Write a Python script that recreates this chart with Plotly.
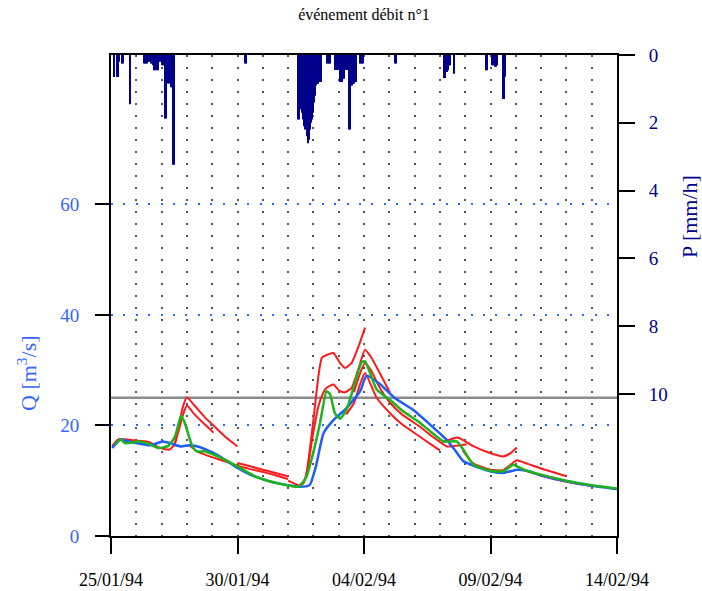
import plotly.graph_objects as go

# ---------------- data ----------------
x_tick_vals = [0, 5, 10, 15, 20]
x_tick_text = ["25/01/94", "30/01/94", "04/02/94", "09/02/94", "14/02/94"]
q_ticks = [0, 20, 40, 60]
p_ticks = [0, 2, 4, 6, 8, 10]
threshold_q = 25

# observed discharge (blue), time in days since 25/01/94
blue_t = [0.05, 0.35, 0.9, 1.55, 2.05, 2.35, 2.75, 3.1, 3.5, 4.2, 5.0, 5.5, 6.4, 7.45, 7.85, 8.1, 8.4,
          8.8, 9.3, 9.85, 10.1, 10.65, 11.2, 11.95, 12.6, 13.27, 13.6, 13.93, 14.5, 14.98, 15.5, 16.04,
          16.43, 17.0, 18.0, 19.0, 20.0]
blue_q = [15.9, 17.4, 16.9, 16.4, 17.1, 16.8, 16.2, 16.4, 16.1, 14.7, 12.3, 11.1, 9.7, 8.9, 9.2, 12.6, 18.6,
          21.0, 23.1, 26.2, 29.0, 27.4, 25.0, 22.8, 20.2, 17.4, 15.5, 13.5, 12.4, 11.7, 11.4, 12.0,
          11.8, 11.0, 9.9, 9.1, 8.5]

# simulated discharge (green)
green_t = [0.16, 0.4, 0.55, 1.08, 1.48, 1.88, 2.27, 2.53, 2.77, 2.92, 3.19, 3.39, 3.72, 4.37, 5.03, 5.69,
           6.35, 7.34, 7.5, 7.73, 7.99, 8.26, 8.52, 8.66, 8.85, 9.05, 9.31, 9.64, 9.9, 10.04, 10.24, 10.5,
           11.03, 11.56, 12.15, 12.6, 13.14, 13.67, 13.93, 14.33, 14.98, 15.51, 15.9, 16.17, 16.43, 17.0,
           18.0, 19.0, 20.0]
green_q = [16.5, 17.5, 16.8, 17.1, 16.7, 15.9, 16.3, 18.0, 21.8, 20.4, 16.5, 15.3, 15.3, 14.1, 12.5, 10.8,
           9.8, 8.9, 9.1, 10.8, 15.0, 20.4, 26.2, 25.6, 22.2, 21.2, 22.8, 27.7, 31.4, 31.6, 29.5, 26.5,
           24.6, 22.5, 20.7, 19.0, 17.1, 17.1, 15.6, 12.9, 11.8, 11.7, 12.9, 12.3, 11.8, 11.1,
           10.0, 9.2, 8.6]

# forecast discharges (red)
red1_t = [0.05, 0.3, 0.9, 1.5, 1.9, 2.3, 2.5, 2.7, 2.85, 3.0, 3.3, 3.7, 4.0, 4.5, 5.0]
red1_q = [16.3, 17.5, 17.3, 17.0, 16.0, 15.6, 16.5, 20.5, 23.5, 25.1, 23.6, 21.5, 20.2, 18.0, 16.2]
red2_t = [2.5, 2.7, 2.85, 3.0, 3.3, 3.7, 4.05]
red2_q = [16.2, 19.5, 22.0, 23.6, 22.0, 20.2, 18.7]
red3_t = [3.1, 3.4, 3.9, 4.5, 5.0, 5.5, 6.0, 6.5, 7.0]
red3_q = [16.4, 15.3, 14.4, 13.5, 12.7, 12.1, 11.6, 11.0, 10.3]
red4_t = [5.0, 5.5, 6.0, 6.5, 7.0]
red4_q = [13.2, 12.6, 12.0, 11.4, 10.8]
red5_t = [7.0, 7.4, 7.6, 7.75, 8.0, 8.2, 8.33, 8.55, 8.79, 9.05, 9.25, 9.51, 9.8, 10.04]
red5_q = [10.0, 9.2, 9.5, 12.0, 21.0, 29.0, 32.2, 32.8, 33.1, 31.3, 30.4, 31.3, 34.5, 37.7]
red6_t = [7.5, 7.7, 7.95, 8.2, 8.4, 8.52, 8.79, 9.05, 9.25, 9.51, 9.8, 10.04, 10.3, 10.7, 11.03]
red6_q = [9.3, 10.5, 17.5, 23.5, 26.0, 26.8, 27.4, 26.2, 26.0, 26.8, 30.5, 33.7, 32.2, 28.8, 25.9]
red7_t = [9.3, 9.6, 9.85, 10.04, 10.5, 11.03, 11.5, 12.2, 12.6, 13.0]
red7_q = [22.0, 24.0, 27.5, 29.5, 25.0, 22.2, 20.2, 18.0, 16.7, 15.5]
red8_t = [9.6, 9.85, 10.04, 10.3, 10.6, 11.03, 11.5, 12.2, 12.7, 13.27, 13.6, 14.05]
red8_q = [26.0, 29.5, 31.3, 29.8, 27.0, 24.1, 22.0, 19.8, 18.0, 16.2, 16.3, 16.6]
red9_t = [13.1, 13.5, 13.67, 13.9, 14.3, 14.98, 15.5, 15.8, 16.04]
red9_q = [17.0, 17.6, 17.8, 17.4, 16.3, 15.0, 14.4, 15.0, 16.0]
red10_t = [13.9, 14.3, 14.98, 15.5, 15.9, 16.04, 16.5, 17.0, 18.0]
red10_q = [15.5, 13.2, 12.0, 11.9, 13.3, 13.7, 13.0, 12.2, 10.8]
red11_t = [16.2, 17.0, 18.0, 19.0]
red11_q = [12.1, 10.9, 9.8, 9.0]

# hourly rainfall [mm/h], hour index since 25/01/94 00:00
rain_hour = [2, 5, 6, 7, 10, 11, 18,
             31, 32, 33, 34, 35, 36, 37, 38, 39, 40, 41, 42, 43, 44, 45, 46, 48, 49, 50, 51, 52, 54, 55, 56, 57, 58, 59,
             127, 128,
             177, 178, 179, 180, 181, 182, 183, 184, 185, 186, 187, 188, 189, 190, 191, 192, 193, 194, 195, 196, 197,
             198, 199,
             204, 205, 206, 207, 212, 213, 214, 215, 216, 217, 218, 219, 220, 221, 222, 223, 225, 226, 227, 228, 229,
             230, 231, 232, 236, 237, 238, 239,
             269, 270,
             315, 316, 317, 318, 319, 320, 321, 325,
             355, 356, 361, 362, 363, 364, 365, 366, 371, 372, 373]
rain_p = [0.65, 0.65, 0.65, 0.2, 0.25, 0.25, 1.45,
          0.25, 0.25, 0.25, 0.25, 0.2, 0.2, 0.25, 0.25, 0.3, 0.45, 0.45, 0.3, 0.45, 0.45, 0.2, 0.2, 0.3, 0.3, 0.3,
          1.87, 1.87, 0.84, 0.84, 0.95, 0.95, 3.24, 3.24,
          0.25, 0.25,
          1.9, 1.9, 1.2, 1.6, 1.7, 1.9, 2.1, 2.2, 2.4, 2.6, 2.5, 2.2, 2.0, 1.9, 1.7, 1.4, 1.2, 0.9, 0.85, 0.85, 0.8,
          0.8, 0.8,
          0.25, 0.25, 0.25, 0.25, 0.44, 0.44, 0.44, 0.44, 0.44, 0.8, 0.8, 0.8, 0.7, 0.7, 0.44, 0.44, 2.2, 2.2, 0.9,
          0.9, 0.85, 0.85, 0.8, 0.8, 0.25, 0.25, 0.25, 0.25,
          0.25, 0.25,
          0.68, 0.68, 0.5, 0.5, 0.45, 0.3, 0.3, 0.55,
          0.45, 0.45, 0.3, 0.3, 0.3, 0.35, 0.35, 0.3, 1.3, 1.3, 0.64]

# ---------------- styling ----------------
SERIF = "Liberation Serif, Times New Roman, serif"
Q_BLUE = "#3366ff"
NAVY = "#00008b"
RED = "#ff1a1a"
BLUE = "#1f5cff"
GREEN = "#1cb31c"

fig = go.Figure()

reds = [(red1_t, red1_q), (red2_t, red2_q), (red3_t, red3_q), (red4_t, red4_q), (red5_t, red5_q),
        (red6_t, red6_q), (red7_t, red7_q), (red8_t, red8_q), (red9_t, red9_q), (red10_t, red10_q),
        (red11_t, red11_q)]
for rt, rq in reds:
    fig.add_trace(go.Scatter(x=rt, y=rq, mode="lines", line=dict(color=RED, width=2, shape="spline",
                                                                  smoothing=0.5), hoverinfo="skip"))

fig.add_trace(go.Scatter(x=blue_t, y=blue_q, mode="lines",
                         line=dict(color=BLUE, width=2.5, shape="spline", smoothing=0.5)))
fig.add_trace(go.Scatter(x=green_t, y=green_q, mode="lines",
                         line=dict(color=GREEN, width=2.5, shape="spline", smoothing=0.5)))

rain_x = [(h + 0.5) / 24 for h in rain_hour]
fig.add_trace(go.Bar(x=rain_x, y=rain_p, width=1 / 24, yaxis="y2",
                     marker=dict(color=NAVY, line=dict(width=0))))

fig.add_shape(type="line", xref="paper", x0=0, x1=1, yref="y", y0=threshold_q, y1=threshold_q,
              line=dict(color="#8c8c8c", width=2.5), layer="between")

fig.update_layout(
    width=702, height=591,
    margin=dict(l=111, r=85, t=55, b=55),
    plot_bgcolor="white", paper_bgcolor="white",
    showlegend=False,
    font=dict(family=SERIF, color="black"),
    title=dict(text="événement débit n°1", x=0.5, xref="paper", xanchor="center",
               y=1 - 14 / 591, yanchor="middle", font=dict(family=SERIF, size=16, color="black")),
    xaxis=dict(range=[0, 20], tickvals=x_tick_vals, ticktext=x_tick_text, automargin=False,
               ticks="outside", ticklen=16, tickwidth=2, tickcolor="black",
               showline=True, linewidth=2, linecolor="black", mirror=True,
               showgrid=True, gridcolor="#555555", gridwidth=1.5, griddash="1.5px,10.5px",
               minor=dict(dtick=1, showgrid=True, gridcolor="#555555", gridwidth=1.5,
                          griddash="1.5px,10.5px", ticks=""),
               zeroline=False, tickfont=dict(family=SERIF, size=18, color="black"),
               ticklabelstandoff=10),
    yaxis=dict(range=[0, 87], tickvals=q_ticks, ticks="outside", ticklen=14, tickwidth=2, automargin=False,
               tickcolor="black", showline=True, linewidth=2, linecolor="black",
               showgrid=True, gridcolor="#2a6bff", gridwidth=2, griddash="2px,10.4px",
               zeroline=False, tickfont=dict(family=SERIF, size=19, color=Q_BLUE),
               ticklabelstandoff=12),
    yaxis2=dict(overlaying="y", side="right", range=[14.19, 0], tickvals=p_ticks, automargin=False,
                ticks="outside", ticklen=16, tickwidth=2, tickcolor="black",
                showline=True, linewidth=2, linecolor="black", showgrid=False, zeroline=False,
                tickfont=dict(family=SERIF, size=19, color=NAVY), ticklabelstandoff=10),
    annotations=[
        dict(text="Q [m<sup>3</sup>/s]", xref="paper", yref="paper", x=(27 - 111) / 506,
             y=(536 - 373) / 481, textangle=-90, showarrow=False, xanchor="center", yanchor="middle",
             font=dict(family=SERIF, size=22, color=Q_BLUE)),
        dict(text="P [mm/h]", xref="paper", yref="paper", x=(689 - 111) / 506,
             y=(536 - 217) / 481, textangle=-90, showarrow=False, xanchor="center", yanchor="middle",
             font=dict(family=SERIF, size=22, color=NAVY)),
    ],
)

fig.write_html("out.html", config={"displayModeBar": False},
               post_script="document.body.style.margin='0px';")
